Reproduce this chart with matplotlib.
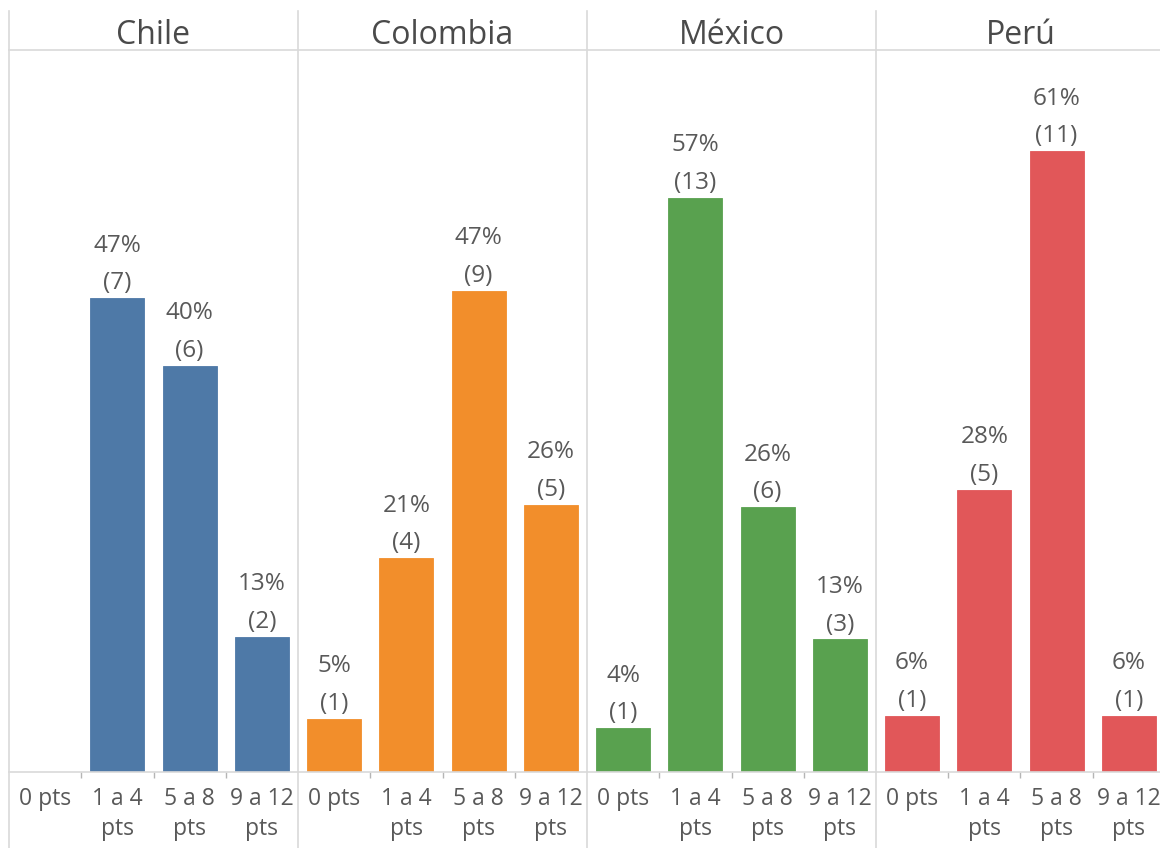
import matplotlib
matplotlib.use("Agg")
import matplotlib.pyplot as plt
from matplotlib.lines import Line2D

plt.rcParams['font.family'] = ['Open Sans', 'DejaVu Sans']

# respuestas por país y rango de puntaje
countries = ['Chile', 'Colombia', 'México', 'Perú']
categories = ['0 pts', '1 a 4\npts', '5 a 8\npts', '9 a 12\npts']
chile = [0, 7, 6, 2]
colombia = [1, 4, 9, 5]
mexico = [1, 13, 6, 3]
peru = [1, 5, 11, 1]
colors = ['#4E79A7', '#F28E2B', '#59A14F', '#E15759']

counts = [chile, colombia, mexico, peru]

W, H = 1160, 848
fig = plt.figure(figsize=(W / 100, H / 100), dpi=100)

def fx(px):
    return px / W

def fy(py):
    return 1 - py / H

grid = '#d9d9d9'
text_col = '#595959'
left, step, top, base = 9, 289, 50, 772

for i, (name, vals, col) in enumerate(zip(countries, counts, colors)):
    total = sum(vals)
    pct = [v / total * 100 for v in vals]
    ax = fig.add_axes([fx(left + step * i), fy(base), fx(step), (base - top) / H])
    x = range(len(categories))
    ax.bar(x, pct, width=0.75, color=col, edgecolor=col, linewidth=0.6)
    for xi, p, c in zip(x, pct, vals):
        if c == 0:
            continue
        ax.annotate(f"{round(p)}%\n({c})", (xi, p), xytext=(0, 2),
                    textcoords='offset points', ha='center', va='bottom',
                    fontsize=17.5, color=text_col, linespacing=1.75)
    ax.set_xlim(-0.5, 3.5)
    ax.set_ylim(0, 71.05)
    ax.set_xticks(list(x))
    ax.set_xticklabels(categories, fontsize=16.5, color=text_col, linespacing=1.38)
    ax.set_xticks([0.5, 1.5, 2.5], minor=True)
    ax.tick_params(axis='x', which='major', length=0, pad=10.5)
    ax.tick_params(axis='x', which='minor', length=4, color='#b5b5b5', width=1)
    ax.set_yticks([])
    for s in ['left', 'right', 'top']:
        ax.spines[s].set_visible(False)
    ax.spines['bottom'].set_color(grid)
    ax.spines['bottom'].set_linewidth(1.2)
    ax.patch.set_alpha(0)
    fig.text(fx(left + step * i + step / 2), fy(35), name, ha='center', va='center',
             fontsize=23, color='#4a4a4a')

# separadores de panel y línea del encabezado
for i in range(4):
    xp = fx(left + step * i)
    fig.add_artist(Line2D([xp, xp], [fy(11), 0], color=grid, lw=1.2))
fig.add_artist(Line2D([fx(left), 1], [fy(top), fy(top)], color=grid, lw=1.2))

fig.savefig('out.png', dpi=100)
